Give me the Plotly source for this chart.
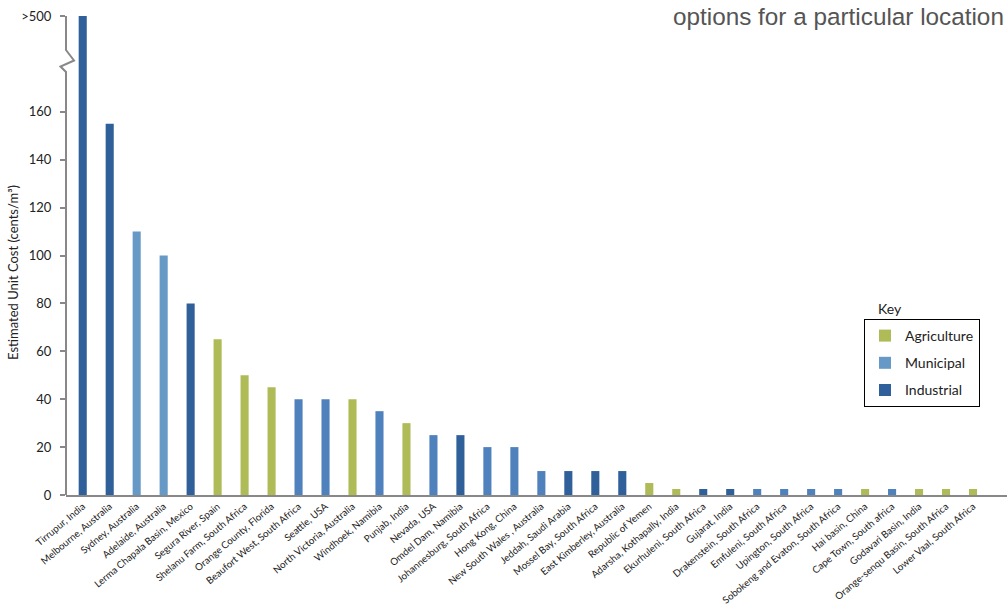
import plotly.graph_objects as go

categories = [
    "Tirrupur, India", "Melbourne, Australia", "Sydney, Australia", "Adelaide, Australia",
    "Lerma Chapala Basin, Mexico", "Segura River, Spain", "Shelanu Farm, South Africa",
    "Orange County, Florida", "Beaufort West, South Africa", "Seattle, USA",
    "North Victoria, Australia", "Windhoek, Namibia", "Punjab, India", "Nevada, USA",
    "Omdel Dam, Namibia", "Johannesburg, South Africa", "Hong Kong, China",
    "New South Wales , Australia", "Jeddah, Saudi Arabia", "Mossel Bay, South Africa",
    "East Kimberley, Australia", "Republic of Yemen", "Adarsha, Kothapally, India",
    "Ekurhuleni, South Africa", "Gujarat, India", "Drakenstein, South Africa",
    "Emfuleni, South Africa", "Upington, South Africa", "Sobokeng and Evaton, South Africa",
    "Hai basin, China", "Cape Town, South africa", "Godavari Basin, India",
    "Orange-senqu Basin, South Africa", "Lower Vaal, South Africa",
]
values = [500, 155, 110, 100, 80, 65, 50, 45, 40, 40, 40, 35, 30, 25, 25, 20, 20,
          10, 10, 10, 10, 5, 2.5, 2.5, 2.5, 2.5, 2.5, 2.5, 2.5, 2.5, 2.5, 2.5, 2.5, 2.5]
sectors = ["Industrial", "Industrial", "Municipal", "Municipal", "Industrial",
           "Agriculture", "Agriculture", "Agriculture", "Municipal", "Municipal",
           "Agriculture", "Municipal", "Agriculture", "Municipal", "Industrial",
           "Municipal", "Municipal", "Municipal", "Industrial", "Industrial",
           "Industrial", "Agriculture", "Agriculture", "Industrial", "Industrial",
           "Municipal", "Municipal", "Municipal", "Municipal", "Agriculture",
           "Municipal", "Agriculture", "Agriculture", "Agriculture"]
lighter_shade = ["Sydney, Australia", "Adelaide, Australia"]

y_tick_vals = [0, 20, 40, 60, 80, 100, 120, 140, 160, 200]
y_tick_text = ["0", "20", "40", "60", "80", "100", "120", "140", "160", ">500"]
axis_break_at = 200  # values above the break are drawn at the ">500" tick

sector_order = ["Agriculture", "Municipal", "Industrial"]
sector_colors = {"Agriculture": "#afbb57", "Municipal": "#4f81bd", "Industrial": "#30609a"}
light_municipal = "#6699c6"

fig = go.Figure()
for i, sec in enumerate(sector_order):
    xs = [c for c, s in zip(categories, sectors) if s == sec]
    ys = [min(v, axis_break_at) for v, s in zip(values, sectors) if s == sec]
    cols = [light_municipal if c in lighter_shade else sector_colors[sec] for c in xs]
    fig.add_trace(go.Bar(
        x=xs, y=ys, name=sec, width=0.3,
        marker=dict(color=cols, line=dict(width=0)),
        legendgroup=sec,
    ))

# plot area geometry (pixels)
L, R, T, B = 66, 0, 16, 111
W, H = 1007, 606
pw, ph = W - L - R, H - T - B


def xp(px):
    return (px - L) / pw


def yp(py):
    return (H - B - py) / ph


# y axis line with a break zigzag
path = (f"M 0,1 L 0,{yp(50)} L {xp(74)},{yp(60.5)} L {xp(60.5)},{yp(66.5)} "
        f"L 0,{yp(72)} L 0,0")
fig.add_shape(type="path", path=path, xref="paper", yref="paper",
              line=dict(color="#888888", width=2), layer="above")

fig.add_annotation(text="Estimated Unit Cost (cents/m³)", textangle=-90,
                   xref="paper", yref="paper", x=xp(13), y=yp(273),
                   xanchor="center", yanchor="middle", showarrow=False,
                   font=dict(family="Lato", size=13, color="#222222"))
fig.add_annotation(text="Key", xref="paper", yref="paper", x=xp(876), y=yp(308),
                   xanchor="left", yanchor="middle", showarrow=False,
                   font=dict(family="Lato", size=14, color="#222222"))
fig.add_annotation(text="options for a particular location", xref="paper", yref="paper",
                   x=xp(1006), y=yp(17), xanchor="right", yanchor="middle",
                   showarrow=False,
                   font=dict(family="Liberation Sans", size=24.3, color="#555555"))

fig.update_layout(
    width=W, height=H,
    margin=dict(l=L, r=R, t=T, b=B, pad=0, autoexpand=False),
    paper_bgcolor="white", plot_bgcolor="white",
    barmode="overlay",
    font=dict(family="Lato", color="#222222"),
    legend=dict(x=xp(864), y=yp(319), xanchor="left", yanchor="top",
                bordercolor="#000000", borderwidth=1, bgcolor="white",
                font=dict(family="Lato", size=14, color="#222222"),
                tracegroupgap=6, itemwidth=30, traceorder="grouped"),
    xaxis=dict(type="category", categoryorder="array", categoryarray=categories,
               range=[-0.62, 34.26], showline=True, linecolor="#888888", linewidth=2,
               ticks="", tickangle=-40, showgrid=False, zeroline=False, automargin=False,
               tickfont=dict(family="Lato", size=9.8, color="#222222")),
    yaxis=dict(range=[0, 200], tickvals=y_tick_vals, ticktext=y_tick_text,
               ticks="outside", ticklen=5, tickcolor="#888888", tickwidth=1.5,
               showline=False, showgrid=False, zeroline=False, ticklabelstandoff=6,
               automargin=False,
               tickfont=dict(family="Lato", size=13, color="#222222")),
)

fig.write_html("out.html")
